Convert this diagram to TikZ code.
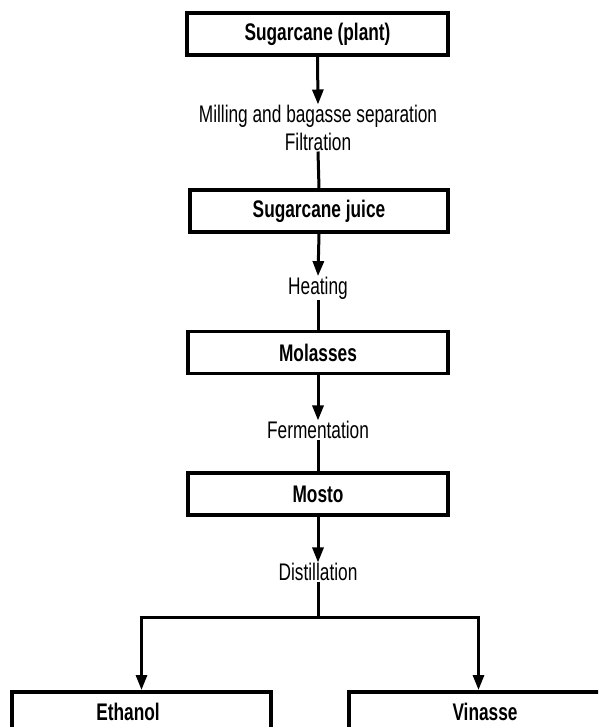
\documentclass[tikz,border=0pt]{standalone}
\usepackage{fontspec}
\setmainfont[FakeStretch=0.72]{Liberation Sans}
\usetikzlibrary{arrows.meta}
\begin{document}
\begin{tikzpicture}[x=1pt,y=1pt,
  box/.style={draw=black, line width=3.5pt, minimum height=42pt, inner sep=0pt,
    font=\fontsize{24}{26}\selectfont\bfseries},
  lab/.style={inner sep=0.5pt, align=center, font=\fontsize{24}{28}\selectfont},
  arr/.style={line width=3pt, -{Triangle[length=15pt,width=11pt]}},
  ln/.style={line width=3pt}]
\useasboundingbox (0,0) rectangle (598,-727);
\clip (0,0) rectangle (598,-727);
\node[box, minimum width=261pt] (b1) at (317.5,-34) {Sugarcane (plant)};
\node[lab] (l1) at (318,-128) {Milling and bagasse separation\\Filtration};
\node[box, minimum width=258pt] (b2) at (319,-211) {Sugarcane juice};
\node[lab] (l2) at (318,-288) {Heating};
\node[box, minimum width=260pt] (b3) at (318,-352.5) {Molasses};
\node[lab] (l3) at (318,-430) {Fermentation};
\node[box, minimum width=260pt] (b4) at (318,-494) {Mosto};
\node[lab] (l4) at (318,-572) {Distillation};
\coordinate (split) at (318,-617);
\node[box, minimum width=259pt, minimum height=70pt, anchor=north] (b5) at (141.5,-690) {};
\node[box, minimum width=259pt, minimum height=70pt, anchor=north] (b6) at (478.5,-690) {};
\node[font=\fontsize{24}{26}\selectfont\bfseries] (t5) at (128,-712) {Ethanol};
\node[font=\fontsize{24}{26}\selectfont\bfseries] (t6) at (485,-712) {Vinasse};
\draw[arr] (b1.south) -- (l1.north);
\draw[ln] (l1.south) -- (b2.north);
\draw[arr] (b2.south) -- (l2.north);
\draw[ln] (l2.south) -- (b3.north);
\draw[arr] (b3.south) -- (l3.north);
\draw[ln] (l3.south) -- (b4.north);
\draw[arr] (b4.south) -- (l4.north);
\draw[ln] (l4.south) -- (split);
\draw[arr] (split) -| (b5.north);
\draw[arr] (split) -| (b6.north);
\end{tikzpicture}
\end{document}
